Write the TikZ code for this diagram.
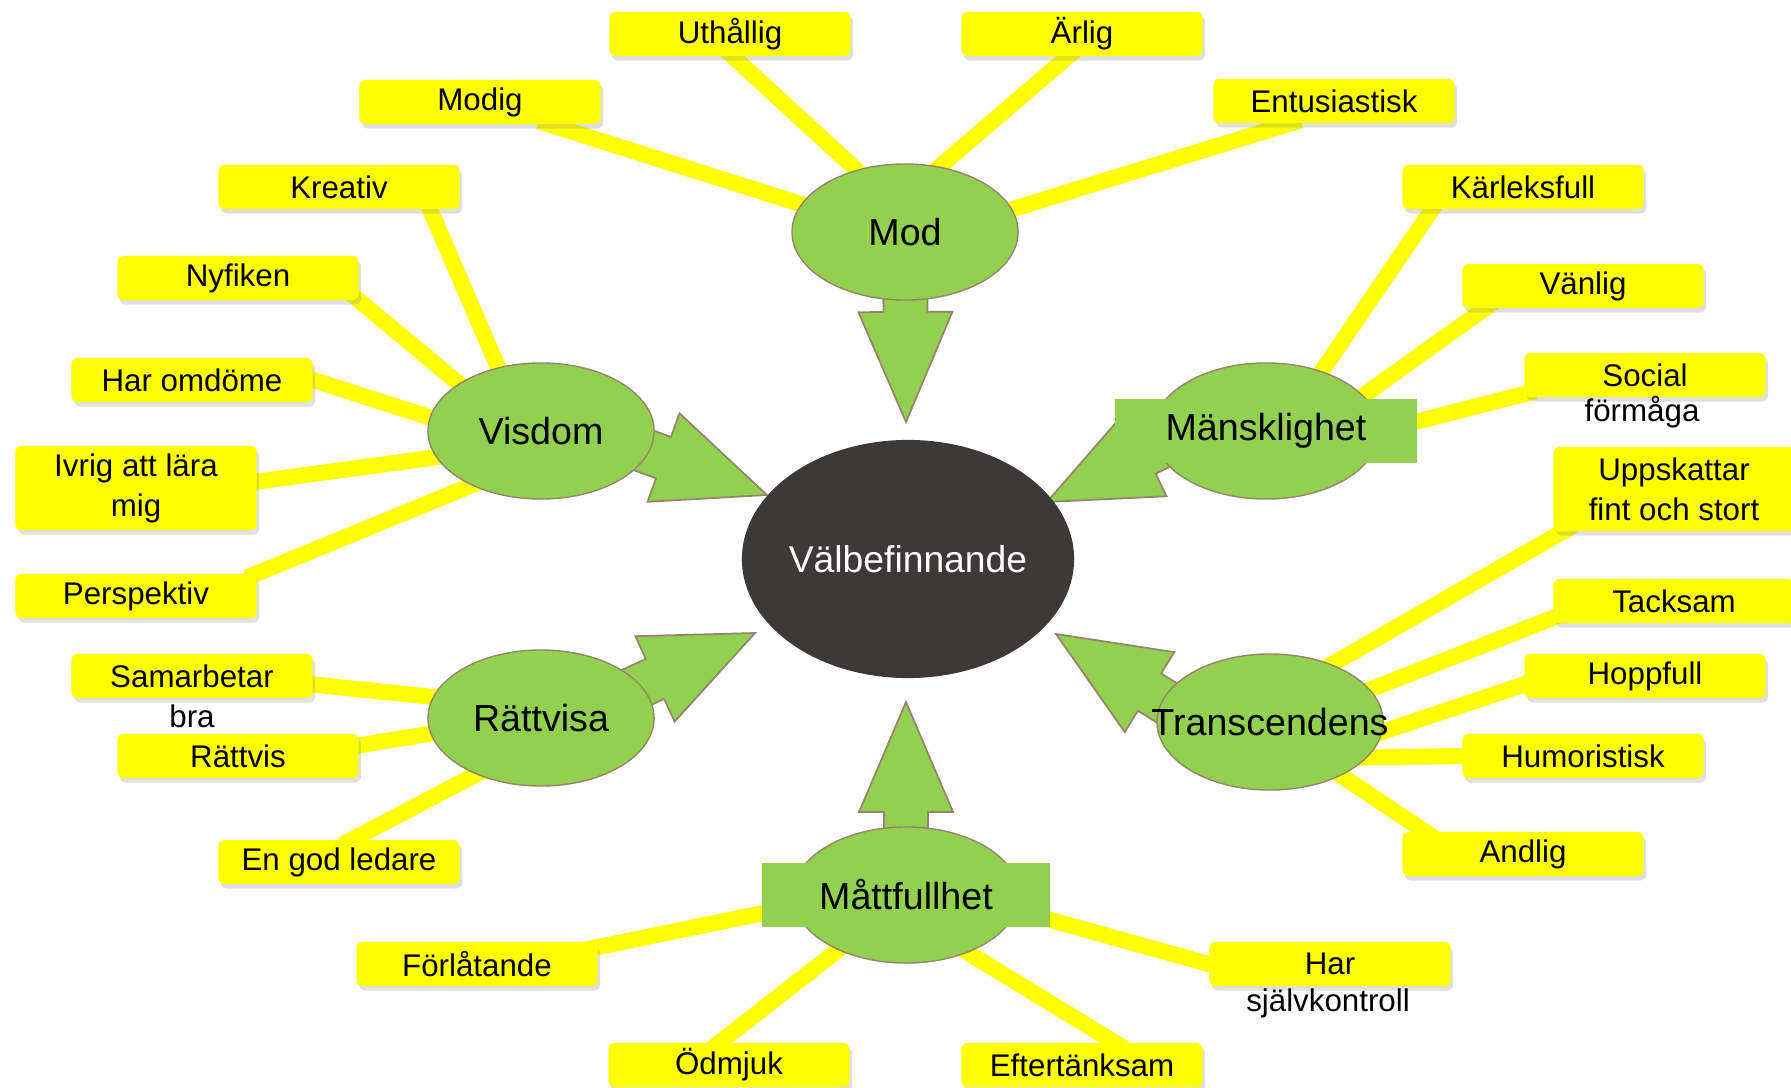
\documentclass[tikz,border=0pt]{standalone}
\usepackage{fontspec}
\setmainfont{Liberation Sans}
\usetikzlibrary{shapes,arrows,positioning,calc,shadows,backgrounds}

\definecolor{traityellow}{RGB}{255,255,0}
\definecolor{virtuegreen}{RGB}{146,208,80}
\definecolor{virtueedge}{RGB}{152,132,104}
\definecolor{wellbeing}{RGB}{62,56,56}

% text that does not widen its node
\newcommand{\nowidth}[1]{\makebox[0pt]{#1}}
% block arrow from #1 to the tip #2
\newcommand{\bigarrow}[2]{%
    \coordinate (as) at (#1);
    \coordinate (ah) at ($(#2)!1.1cm!(as)$);
    \path [bigarrow] ($(as)!0.22cm!90:(#2)$) -- ($(ah)!0.22cm!90:(#2)$) -- ($(ah)!0.47cm!90:(#2)$) -- (#2)
        -- ($(ah)!0.47cm!-90:(#2)$) -- ($(ah)!0.22cm!-90:(#2)$) -- ($(as)!0.22cm!-90:(#2)$) -- cycle;}

\begin{document}
\begin{tikzpicture}[x=0.01cm, y=-0.01cm]
    % Define block styles
    \tikzstyle{trait} = [rectangle, fill=traityellow, rounded corners=0.06cm, minimum width=2.41cm, minimum height=0.44cm, inner sep=0pt, align=center, font=\fontsize{8.9}{11.4}\selectfont, drop shadow={shadow xshift=0.025cm, shadow yshift=-0.045cm, opacity=0.25}]
    \tikzstyle{spill} = [inner sep=0pt, font=\fontsize{8.9}{11.4}\selectfont]
    \tikzstyle{virtue} = [ellipse, draw=virtueedge, fill=virtuegreen, minimum width=2.26cm, minimum height=1.36cm, inner sep=0pt, font=\fontsize{10.7}{13}\selectfont]
    \tikzstyle{plate} = [rectangle, fill=virtuegreen, minimum height=0.64cm, inner sep=0pt, font=\fontsize{10.7}{13}\selectfont]
    \tikzstyle{line} = [draw=traityellow, line width=0.16cm, shorten <=-0.12cm, shorten >=-0.12cm]
    \tikzstyle{bigarrow} = [draw=virtueedge, fill=virtuegreen, line width=0.5pt, line join=miter]

    \useasboundingbox (0,0) rectangle (1791,1088);

    % Virtues
    \node [virtue] (mod) at (905,232) {\nowidth{Mod}};
    \node [virtue] (visdom) at (541,431) {\nowidth{Visdom}};
    \node [virtue] (manskl) at (1266,431) {};
    \node [virtue] (rattvisa) at (541,718) {\nowidth{Rättvisa}};
    \node [virtue] (transc) at (1270,722) {\nowidth{Transcendens}};
    \node [virtue] (mattf) at (906,895) {};
    \node [plate, minimum width=3.02cm] (manskltext) at (manskl) {Mänsklighet};
    \node [plate, minimum width=2.88cm] (mattftext) at (mattf) {Måttfullhet};

    % Centre
    \node [ellipse, fill=wellbeing, minimum width=3.32cm, minimum height=2.38cm, inner sep=0pt, text=white, font=\fontsize{10.6}{13}\selectfont] (wb) at (908,559) {\nowidth{Välbefinnande}};

    % Traits
    \node [trait] (uthallig) at (730,34) {Uthållig};
    \node [trait] (arlig) at (1082,34) {Ärlig};
    \node [trait] (modig) at (480,102) {Modig};
    \node [trait] (entusiastisk) at (1334,101) {Entusiastisk};
    \node [trait] (kreativ) at (339,187) {Kreativ};
    \node [trait] (karleksfull) at (1523,187) {Kärleksfull};
    \node [trait] (nyfiken) at (238,278) {Nyfiken};
    \node [trait] (vanlig) at (1583,286) {Vänlig};
    \node [trait] (omdome) at (192,380) {Har omdöme};
    \node [trait] (social) at (1645,375) {Social};
    \node [spill] (socialrest) at (1642,412) {förmåga};
    \node [trait, minimum height=0.84cm] (ivrig) at (136,488) {Ivrig att lära\\mig};
    \node [trait, minimum height=0.84cm] (uppskattar) at (1674,489) {Uppskattar\\fint och stort};
    \node [trait] (perspektiv) at (136,596) {Perspektiv};
    \node [trait] (tacksam) at (1674,601) {Tacksam};
    \node [trait] (samarbetar) at (192,676) {Samarbetar};
    \node [spill] (samarbetarrest) at (192,716) {bra};
    \node [trait] (hoppfull) at (1645,676) {Hoppfull};
    \node [trait] (rattvis) at (238,756) {Rättvis};
    \node [trait] (humoristisk) at (1583,756) {Humoristisk};
    \node [trait] (ledare) at (339,862) {En god ledare};
    \node [trait] (andlig) at (1523,854) {Andlig};
    \node [trait] (forlatande) at (477,964) {Förlåtande};
    \node [trait] (sjalvkontroll) at (1330,964) {Har};
    \node [spill] (sjalvkontrollrest) at (1328,1003) {självkontroll};
    \node [trait] (odmjuk) at (729,1065) {Ödmjuk};
    \node [trait] (eftertanksam) at (1082,1065) {Eftertänksam};

    % Arrow tips
    \coordinate (modtip) at (906,422);
    \coordinate (visdomtip) at (767,495);
    \coordinate (mansktip) at (1047,502);
    \coordinate (rattvisatip) at (755,633);
    \coordinate (transctip) at (1056,634);
    \coordinate (mattftip) at (906,702);

    \begin{scope}[on background layer]
    % Lines
    \path [line] (modig.-18) -- (mod.165);
    \path [line] (uthallig.-82) -- (mod.128);
    \path [line] (arlig.-122) -- (mod.62);
    \path [line] (entusiastisk.207) -- (mod.12);
    \path [line] (kreativ.-14) -- (visdom.124);
    \path [line] (nyfiken.south east) -- (visdom.150);
    \path [line] (omdome.east) -- (visdom.173);
    \path [line] (ivrig.3) -- (visdom.194);
    \path [line] (perspektiv.north east) -- (visdom.218);
    \path [line] (karleksfull.194) -- (manskl.47);
    \path [line] (vanlig.193) -- (manskl.20);
    \path [line] (social.189) -- (manskl.east);
    \path [line] (uppskattar.201) -- (transc.43);
    \path [line] (tacksam.188) -- (transc.18);
    \path [line] (hoppfull.184) -- (transc.-5);
    \path [line] (humoristisk.west) -- (transc.-20);
    \path [line] (andlig.167) -- (transc.-37);
    \path [line] (samarbetar.-4) -- (rattvisa.169);
    \path [line] (rattvis.5) -- (rattvisa.188);
    \path [line] (ledare.59) -- (rattvisa.221);
    \path [line] (forlatande.8) -- (mattf.186);
    \path [line] (odmjuk.112) -- (mattf.219);
    \path [line] (eftertanksam.35) -- (mattf.-43);
    \path [line] (sjalvkontroll.west) -- (mattf.-8);

    % Arrows
    \bigarrow{mod}{modtip}
    \bigarrow{$(visdom)+(49,0)$}{visdomtip}
    \bigarrow{$(manskl)+(-48,-12)$}{mansktip}
    \bigarrow{$(rattvisa)+(42,-6)$}{rattvisatip}
    \bigarrow{$(transc)+(-53,12)$}{transctip}
    \bigarrow{mattf}{mattftip}
    \end{scope}
\end{tikzpicture}
\end{document}
